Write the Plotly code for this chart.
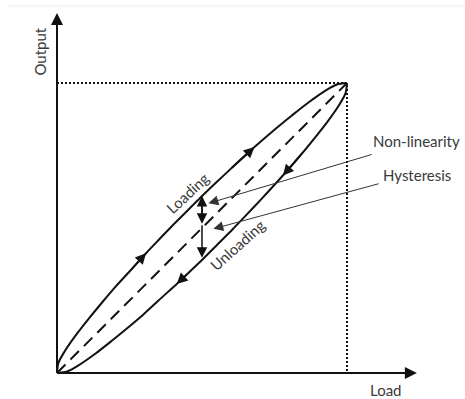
import plotly.graph_objects as go

# ---- data (normalised load / output) ----
loading_x = [0.0, 0.005, 0.026, 0.067, 0.111, 0.156, 0.202, 0.250, 0.307, 0.346, 0.395,
             0.445, 0.495, 0.546, 0.598, 0.681, 0.756, 0.811, 0.867, 0.926, 0.965, 1.0]
loading_y = [0.0, 0.035, 0.074, 0.133, 0.189, 0.244, 0.298, 0.350, 0.413, 0.454, 0.505,
             0.555, 0.605, 0.654, 0.703, 0.779, 0.844, 0.889, 0.933, 0.974, 0.995, 1.0]
# unloading branch (mirror of loading about the ideal line)
unloading_x = [0.0, 0.035, 0.074, 0.133, 0.189, 0.244, 0.298, 0.350, 0.413, 0.454, 0.505,
               0.555, 0.605, 0.654, 0.703, 0.779, 0.844, 0.889, 0.933, 0.974, 0.995, 1.0]
unloading_y = [0.0, 0.005, 0.026, 0.067, 0.111, 0.156, 0.202, 0.250, 0.307, 0.346, 0.395,
               0.445, 0.495, 0.546, 0.598, 0.681, 0.756, 0.811, 0.867, 0.926, 0.965, 1.0]
ideal_x = [0.0, 1.0]
ideal_y = [0.0, 1.0]
full_scale = 1.0

# arrow positions along the branches (indices into the arrays)
loading_arrow_idx = [8, 15]
unloading_arrow_idx = [8, 15]

# hysteresis / non-linearity gauge
gauge_x = 0.5
gauge_levels = [0.61, 0.515, 0.397]   # loading, ideal, unloading

# labels
axis_x_label = "Load"
axis_y_label = "Output"
label_loading = "Loading"
label_unloading = "Unloading"
label_nonlin = "Non-linearity"
label_hyst = "Hysteresis"
nonlin_pointer = dict(tail=(1.090, 0.755), tip=(0.522, 0.585), text_pos=(1.238, 0.800))
hyst_pointer = dict(tail=(1.114, 0.654), tip=(0.539, 0.497), text_pos=(1.243, 0.684))
axis_end = 1.241

FONT = "Lato, 'Open Sans', sans-serif"
INK = "#111111"
TXT = "#3a3a3a"

fig = go.Figure()

# full-scale dotted guides
fig.add_trace(go.Scatter(x=[0, full_scale, full_scale], y=[full_scale, full_scale, 0],
                         mode="lines", line=dict(color=INK, width=2, dash="2px,2px"),
                         hoverinfo="skip"))
# ideal line
fig.add_trace(go.Scatter(x=ideal_x, y=ideal_y, mode="lines",
                         line=dict(color=INK, width=2, dash="12px,7px"), hoverinfo="skip"))
# loading / unloading
fig.add_trace(go.Scatter(x=loading_x, y=loading_y, mode="lines",
                         line=dict(color=INK, width=2, shape="spline", smoothing=0.8),
                         hoverinfo="skip"))
fig.add_trace(go.Scatter(x=unloading_x, y=unloading_y, mode="lines",
                         line=dict(color=INK, width=2, shape="spline", smoothing=0.8),
                         hoverinfo="skip"))

ann = []

def arrow(x, y, ax, ay, width=1.5, size=1.3, color=INK, head=2):
    ann.append(dict(x=x, y=y, ax=ax, ay=ay, xref="x", yref="y", axref="x", ayref="y",
                    text="", showarrow=True, arrowhead=head, arrowsize=size,
                    arrowwidth=width, arrowcolor=color, standoff=0, startstandoff=0))

# axes with arrow tips
arrow(axis_end, 0, 0, 0, width=2, size=1.2)
arrow(0, axis_end, 0, 0, width=2, size=1.2)

# direction arrows on branches
for i in loading_arrow_idx:
    arrow(loading_x[i], loading_y[i], loading_x[i - 1], loading_y[i - 1], width=1.8, size=1.2)
for i in unloading_arrow_idx:
    arrow(unloading_x[i], unloading_y[i], unloading_x[i + 1], unloading_y[i + 1], width=1.8, size=1.2)

# gauge (vertical double arrows)
top, mid, bot = gauge_levels
arrow(gauge_x, top, gauge_x, mid, width=1.5, size=1.4)
arrow(gauge_x, mid, gauge_x, top, width=1.5, size=1.4)
arrow(gauge_x, bot, gauge_x, mid, width=1.5, size=1.4)

# pointers
for p in (nonlin_pointer, hyst_pointer):
    arrow(p["tip"][0], p["tip"][1], p["tail"][0], p["tail"][1], width=1, size=2, color="#333333")

def label(x, y, text, angle=0, size=15):
    ann.append(dict(x=x, y=y, xref="x", yref="y", text=text, showarrow=False,
                    textangle=angle, font=dict(family=FONT, size=size, color=TXT),
                    xanchor="center", yanchor="middle"))

label(0.45, 0.62, label_loading, angle=-43)
label(0.622, 0.441, label_unloading, angle=-42)
label(*nonlin_pointer["text_pos"], label_nonlin)
label(*hyst_pointer["text_pos"], label_hyst)
label(1.134, -0.059, axis_x_label)
label(-0.057, 1.11, axis_y_label, angle=-90)

fig.update_layout(
    width=465, height=399, margin=dict(l=0, r=0, t=0, b=0),
    paper_bgcolor="white", plot_bgcolor="white", showlegend=False,
    xaxis=dict(visible=False, range=[-0.19655, 1.40690], fixedrange=True),
    yaxis=dict(visible=False, range=[-0.08966, 1.28621], fixedrange=True),
    annotations=ann,
    shapes=[dict(type="line", xref="paper", yref="y", x0=0.015, x1=1, y0=1.2655, y1=1.2655,
                 line=dict(color="#eeeeee", width=1), layer="below")],
)

fig.write_html("out.html", config={"displayModeBar": False},
               post_script="document.body.style.margin='0';document.body.style.overflow='hidden';")
